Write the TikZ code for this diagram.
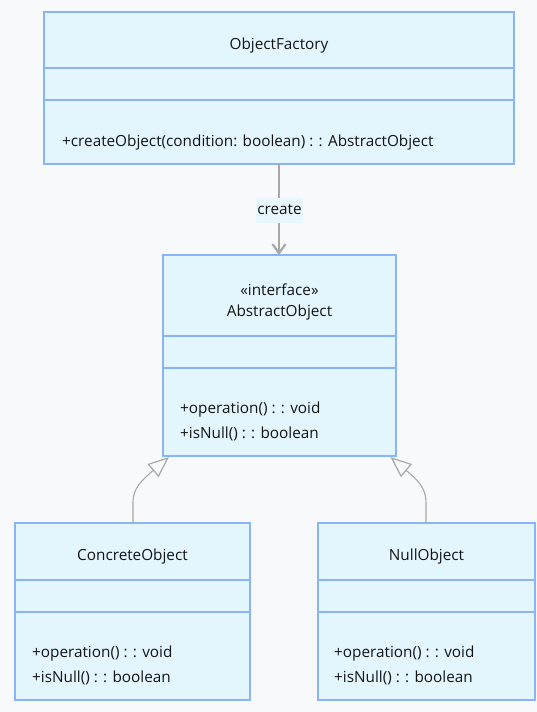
\documentclass[tikz,border=0pt]{standalone}
\usepackage{fontspec}
\setmainfont{Open Sans}
\usetikzlibrary{arrows.meta}
\definecolor{bgc}{HTML}{F8F9FB}
\definecolor{boxfill}{HTML}{E3F5FD}
\definecolor{boxline}{HTML}{8AB4F8}
\definecolor{edgec}{HTML}{A8A8A8}
\definecolor{lblbg}{HTML}{E8F6FD}
\begin{document}
\begin{tikzpicture}[x=1pt,y=-1pt,
  cls/.style={draw=boxline, fill=boxfill, line width=1.2pt, inner sep=0pt, outer sep=0pt, anchor=north west},
  divider/.style={draw=boxline, line width=1.2pt},
  txt/.style={font=\fontsize{15.3}{17}\selectfont, inner sep=0pt, text=black!92},
  member/.style={txt, anchor=west},
  rel/.style={draw=edgec, line width=1.1pt},
  inherit/.style={rel, -{Triangle[open, fill=bgc, length=21pt, width=17pt, line width=1.2pt]}},
  dep/.style={rel, -{Straight Barb[length=9pt, width=13pt, line width=2.2pt]}}
]
\fill[bgc] (0,0) rectangle (537,712);
\useasboundingbox (0,0) rectangle (537,712);

% ObjectFactory
\node[cls, minimum width=470pt, minimum height=152pt] (of) at (44,12) {};
\draw[divider] (44,68) -- (514,68);
\draw[divider] (44,100) -- (514,100);
\node[txt] (ofname) at (279,46) {ObjectFactory};
\node[member] (ofm1) at (62,143) {+createObject(condition: boolean) : : AbstractObject};

% AbstractObject
\node[cls, minimum width=233pt, minimum height=201pt] (ao) at (163,255) {};
\draw[divider] (163,336) -- (396,336);
\draw[divider] (163,368) -- (396,368);
\node[txt] (aost) at (279.5,290) {«interface»};
\node[txt] (aoname) at (279.5,313) {AbstractObject};
\node[member] (aom1) at (180,410) {+operation() : : void};
\node[member] (aom2) at (180,434) {+isNull() : : boolean};

% ConcreteObject
\node[cls, minimum width=235pt, minimum height=177pt] (co) at (15,523) {};
\draw[divider] (15,580) -- (250,580);
\draw[divider] (15,612) -- (250,612);
\node[txt] (coname) at (132.5,557) {ConcreteObject};
\node[member] (com1) at (32,654) {+operation() : : void};
\node[member] (com2) at (32,678) {+isNull() : : boolean};

% NullObject
\node[cls, minimum width=217pt, minimum height=177pt] (no) at (318,523) {};
\draw[divider] (318,580) -- (535,580);
\draw[divider] (318,612) -- (535,612);
\node[txt] (noname) at (426.5,557) {NullObject};
\node[member] (nom1) at (334,654) {+operation() : : void};
\node[member] (nom2) at (334,678) {+isNull() : : boolean};

% create dependency
\draw[dep] (of.south -| 279,0) -- (ao.north -| 279,0);
\node[txt, fill=lblbg, inner xsep=1pt, inner ysep=0pt, minimum height=25pt] (lbl) at (279.5,210) {create};

% inheritance
\coordinate (cotop) at (133,523);
\coordinate (notop) at (426,523);
\coordinate (aoL) at (169,457);
\coordinate (aoR) at (390.5,457);
\draw[inherit] (cotop) -- (133,502) .. controls (133,488) and (142,480) .. (aoL);
\draw[inherit] (notop) -- (426,502) .. controls (426,488) and (417.5,480) .. (aoR);
\end{tikzpicture}
\end{document}
